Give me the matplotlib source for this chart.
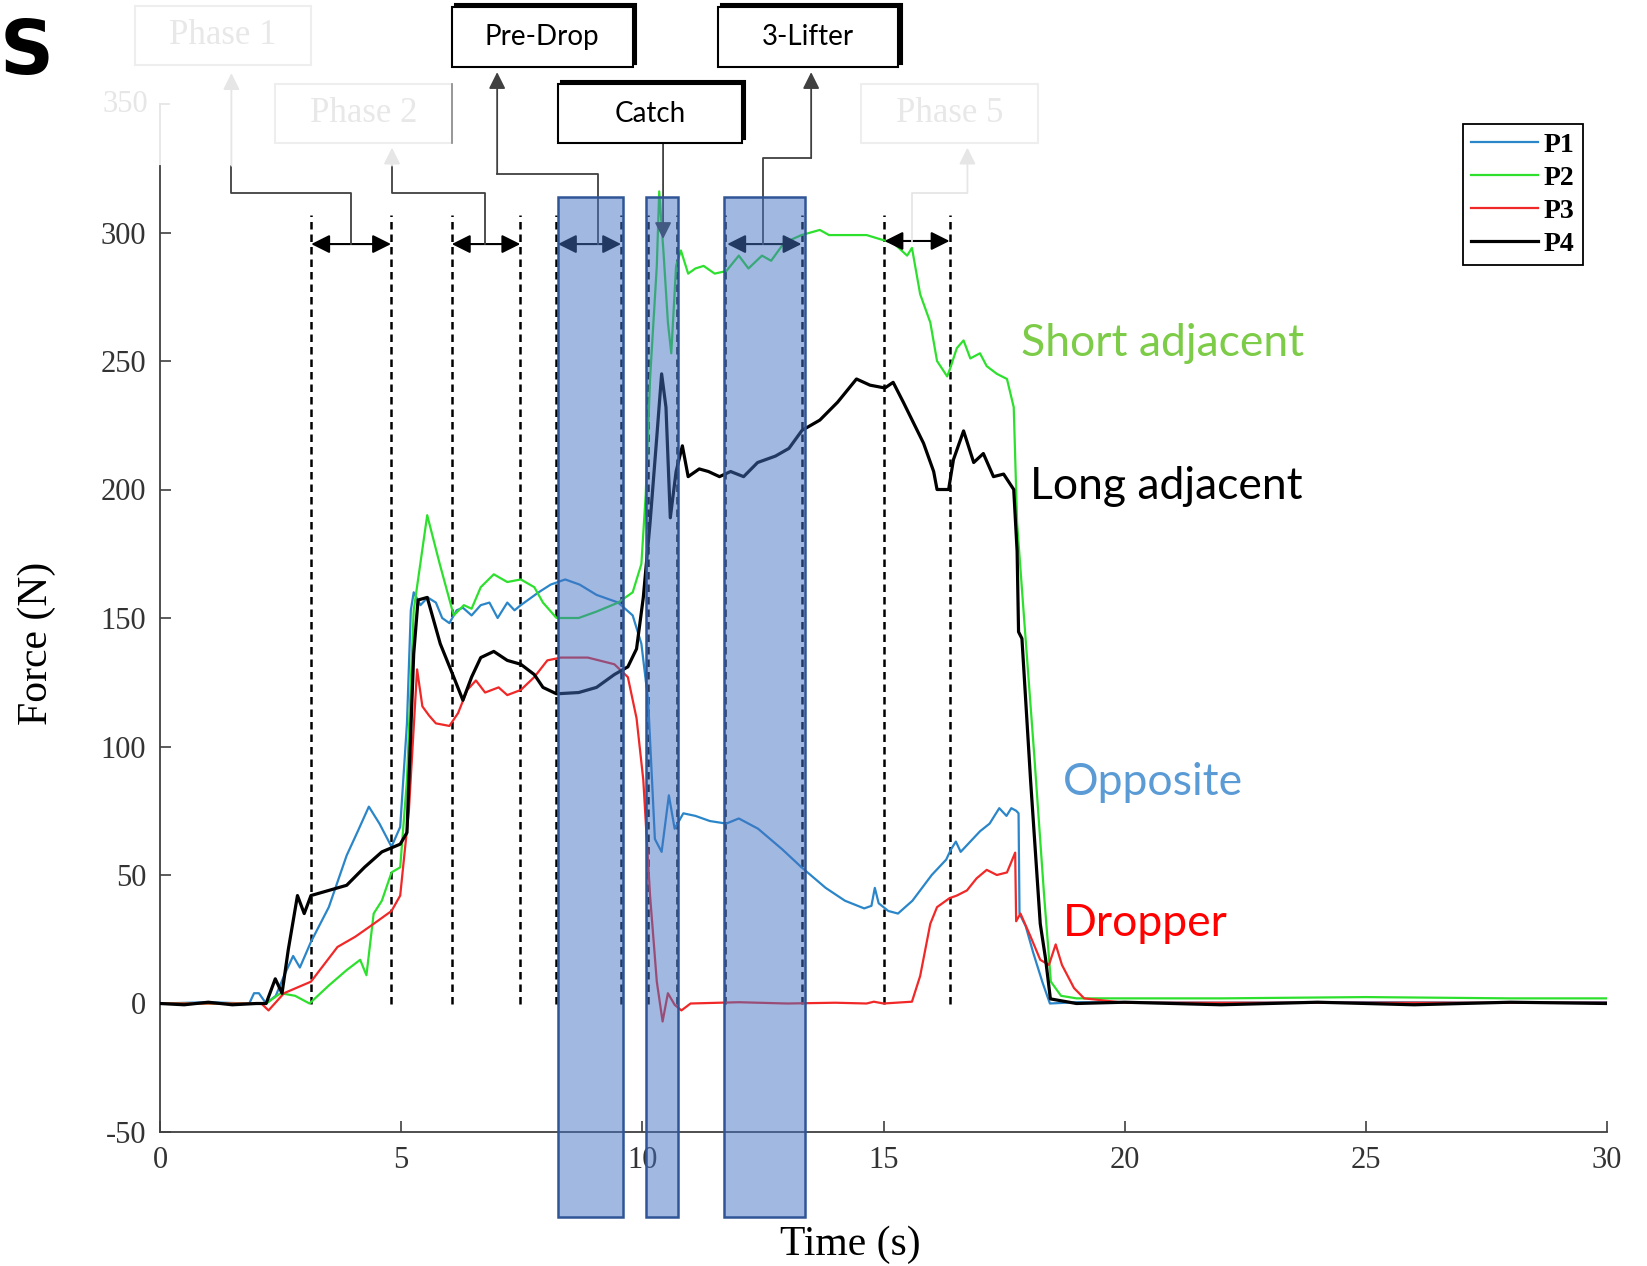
import matplotlib.pyplot as plt
import matplotlib.patches as patches

plt.rcParams['axes.unicode_minus'] = False

# ---- data (time in s, force in N) ----
t_p1 = [0, 1.0, 1.85, 1.95, 2.05, 2.2, 2.4, 2.57, 2.76, 2.9, 3.13, 3.5, 3.87, 4.1, 4.33, 4.55, 4.8, 4.98,
        5.12, 5.2, 5.26, 5.4, 5.55, 5.72, 5.85, 6.0, 6.15, 6.28, 6.46, 6.65, 6.83, 7.0, 7.2, 7.35, 7.48,
        7.85, 8.1, 8.4, 8.7, 9.05, 9.5, 9.8, 9.98, 10.12, 10.26, 10.4, 10.55, 10.67, 10.85, 11.1, 11.4,
        11.74, 12.0, 12.4, 12.9, 13.3, 13.8, 14.2, 14.6, 14.75, 14.82, 14.9, 15.1, 15.3, 15.6, 16.0, 16.3,
        16.4, 16.5, 16.6, 16.8, 17.0, 17.2, 17.4, 17.55, 17.65, 17.75, 17.8, 17.82, 17.95, 18.1, 18.3,
        18.45, 19.0, 22.0, 25.0, 28.0, 30.0]
f_p1 = [0, 0.5, 0, 4, 4, 0, 3, 10.7, 18.5, 14, 24, 37.5, 57.6, 67, 76.6, 70, 61, 68.7,
        109, 153, 160, 155, 158, 156, 150, 148, 153, 154, 151, 155, 156, 150, 156, 153, 155,
        160, 163, 165, 163, 159, 156, 151, 140, 118, 64, 59, 81, 68, 74, 73, 71,
        70, 72, 68, 60, 53, 45, 40, 37, 38, 45, 39, 36, 35, 40, 50, 56,
        60, 63, 59, 63, 67, 70, 76, 73, 76, 75, 74, 35, 30, 20, 8,
        0, 0.5, 0.3, 0.5, 0.3, 0.5]

t_p2 = [0, 1.0, 2.2, 2.5, 2.8, 3.1, 3.5, 3.87, 4.15, 4.28, 4.43, 4.6, 4.8, 4.98, 5.12, 5.26, 5.54, 5.8,
        6.09, 6.3, 6.46, 6.65, 6.92, 7.2, 7.48, 7.76, 7.94, 8.22, 8.68, 9.05, 9.5, 9.8, 9.98, 10.07,
        10.16, 10.3, 10.35, 10.44, 10.53, 10.6, 10.7, 10.8, 10.95, 11.1, 11.27, 11.5, 11.74, 12.0, 12.2,
        12.48, 12.67, 12.94, 13.3, 13.68, 13.87, 14.2, 14.65, 15.0, 15.2, 15.49, 15.59, 15.76, 15.97,
        16.11, 16.32, 16.38, 16.52, 16.66, 16.8, 17.0, 17.14, 17.35, 17.56, 17.7, 17.77, 17.9, 18.12,
        18.33, 18.47, 18.68, 19.0, 22.0, 25.0, 28.0, 30.0]
f_p2 = [0, 0, 0, 4, 3, 0, 7, 13, 17, 11, 35, 40, 51, 53, 87, 153, 190, 171,
        151, 155, 153.6, 162, 167, 164, 165, 162, 156, 150, 150, 152.5, 156, 160, 171, 198,
        243, 287, 316, 292, 265, 253, 287, 293, 284, 286, 287, 284, 285, 291, 286,
        291, 289, 296, 299, 301, 299, 299, 299, 297, 296, 291, 294, 276, 265,
        250, 244, 247, 255, 258, 251, 253, 248, 245, 243, 232, 187, 153.6, 98,
        42, 8.5, 3, 2, 2, 2.5, 2, 2]

t_p3 = [0, 1.0, 2.1, 2.25, 2.57, 3.13, 3.68, 4.05, 4.43, 4.8, 4.98, 5.16, 5.33, 5.44, 5.58, 5.72, 6.0,
        6.18, 6.37, 6.55, 6.74, 7.02, 7.2, 7.48, 7.76, 8.03, 8.31, 8.87, 9.42, 9.7, 9.88, 10.02, 10.16,
        10.3, 10.42, 10.53, 10.67, 10.81, 11.0, 12.0, 13.0, 14.0, 14.65, 14.8, 15.0, 15.59, 15.76,
        15.97, 16.11, 16.37, 16.52, 16.73, 16.93, 17.14, 17.35, 17.56, 17.73, 17.75, 17.84, 18.05,
        18.25, 18.43, 18.57, 18.7, 18.95, 19.16, 20.0, 24.0, 30.0]
f_p3 = [0, 0, 0, -2.7, 4, 8.5, 22, 26, 31, 36, 42, 75, 130, 115.6, 112, 109, 108,
        113, 122, 125.7, 121, 123, 120, 122, 127, 133.5, 134.6, 134.6, 132, 127, 111, 87, 42,
        8.5, -7, 4, -0.5, -2.7, 0, 0.5, 0, 0.3, 0, 0.7, 0, 0.7, 10.7,
        31, 37.5, 41, 42, 44, 48.7, 52, 50, 51, 58.7, 32, 35, 26,
        17, 15, 23, 15, 6, 2, 0.3, 0.3, 0.3]

t_p4 = [0, 0.5, 1.0, 1.5, 2.0, 2.2, 2.39, 2.53, 2.66, 2.85, 2.99, 3.13, 3.5, 3.87, 4.24, 4.6, 4.98, 5.12,
        5.26, 5.35, 5.54, 5.81, 6.09, 6.28, 6.46, 6.65, 6.92, 7.2, 7.48, 7.76, 7.94, 8.22, 8.68, 9.05,
        9.42, 9.7, 9.88, 10.02, 10.16, 10.3, 10.4, 10.49, 10.58, 10.7, 10.83, 10.95, 11.18, 11.37, 11.6,
        11.83, 12.1, 12.39, 12.76, 13.04, 13.31, 13.68, 14.05, 14.44, 14.72, 15.03, 15.2, 15.41, 15.62,
        15.83, 16.04, 16.11, 16.35, 16.45, 16.66, 16.87, 17.07, 17.28, 17.49, 17.7, 17.77, 17.8, 17.87,
        18.05, 18.25, 18.36, 18.46, 19.0, 20.0, 22.0, 24.0, 26.0, 28.0, 30.0]
f_p4 = [0, -0.5, 0.5, -0.5, 0, 0, 9.6, 4, 21, 42, 35, 42, 44, 46, 53, 59, 62, 66.5,
        136, 157, 158, 140, 127, 118, 127, 134.6, 137, 133.5, 132, 128, 123, 120.5, 121, 123,
        128, 131, 138, 158, 187, 220.5, 245, 232, 189, 207, 217, 205, 208, 207, 205,
        207, 205, 210.5, 213, 216, 223, 227, 234, 243, 240.6, 239.5, 241.7, 234, 226,
        218, 207, 200, 200, 211.6, 222.8, 210.5, 214, 205, 206, 200, 176, 144.6, 142,
        86.6, 31, 17.4, 1.8, 0, 0.5, -0.5, 0.5, -0.5, 0.5, 0]

phase_lines = [3.135, 4.79, 6.05, 7.47, 8.21, 9.56, 10.12, 10.71, 11.71, 13.30, 15.02, 16.37]
shaded = [(8.25, 9.60), (10.08, 10.73), (11.69, 13.37)]
x_ticks = [0, 5, 10, 15, 20, 25, 30]
y_ticks = [-50, 0, 50, 100, 150, 200, 250, 300]

fig = plt.figure(figsize=(16.47, 12.66), dpi=100)
ax = fig.add_axes([160 / 1647, 1 - 1132 / 1266, 1447 / 1647, 1028 / 1266])
ax.set_xlim(0, 30)
ax.set_ylim(-50, 350)

dark = '#404040'
faint = '#e6e6e6'
serif = 'Liberation Serif'
calib = 'Lato'

ax.plot(t_p1, f_p1, color='#2a86c8', lw=1.6, label='P1', zorder=3)
ax.plot(t_p2, f_p2, color='#2ee02e', lw=1.6, label='P2', zorder=3)
ax.plot(t_p3, f_p3, color='#f02828', lw=1.6, label='P3', zorder=3)
ax.plot(t_p4, f_p4, color='black', lw=2.3, label='P4', zorder=3)

for x in phase_lines:
    ax.plot([x, x], [0, 307], color='black', lw=1.8, ls=(0, (3, 2)), zorder=2)

# double arrows marking each phase
arrow_pairs = [(3.135, 4.79, 295.5), (6.05, 7.47, 295.5), (8.25, 9.56, 295.5),
               (11.76, 13.30, 295.5), (15.02, 16.37, 296.7)]
for x1, x2, y in arrow_pairs:
    ax.annotate('', xy=(x2, y), xytext=(x1, y),
                arrowprops=dict(arrowstyle='<|-|>', color='black', lw=1.5,
                                mutation_scale=28, shrinkA=0, shrinkB=0), zorder=4)


def connector(xs, ys, color, lw=1.3, head=True):
    if not head:
        ax.plot(xs, ys, color=color, lw=lw, clip_on=False, zorder=4)
        return
    ax.plot(xs[:-1], ys[:-1], color=color, lw=lw, clip_on=False, zorder=4)
    ax.annotate('', xy=(xs[-1], ys[-1]), xytext=(xs[-2], ys[-2]),
                arrowprops=dict(arrowstyle='-|>', color=color, lw=lw,
                                mutation_scale=25, shrinkA=0, shrinkB=0),
                annotation_clip=False, zorder=4)


# faded phase connectors (lower part still dark, upper part washed out)
connector([3.96, 3.96, 1.48, 1.48], [295.5, 315.5, 315.5, 326], dark, head=False)
connector([1.48, 1.48], [326, 362], faint)
connector([6.73, 6.73, 4.81, 4.81], [295.5, 315.5, 315.5, 326], dark, head=False)
connector([4.81, 4.81], [326, 333], faint)
connector([15.59, 15.59, 16.74, 16.74], [296.7, 315.5, 315.5, 333], faint)

# active connectors
connector([9.08, 9.08, 6.99, 6.99], [295.5, 322.9, 322.9, 362.4], dark)
connector([10.43, 10.43], [335, 297.5], dark)
connector([12.50, 12.50, 13.50, 13.50], [295.5, 329, 329, 362.4], dark)

for x1, x2 in shaded:
    ax.add_patch(patches.Rectangle((x1, -83), x2 - x1, 397, facecolor='#4472c4', alpha=0.5,
                                   edgecolor='none', clip_on=False, zorder=5))
    ax.add_patch(patches.Rectangle((x1, -83), x2 - x1, 397, facecolor='none',
                                   edgecolor='#2f5597', lw=1.8, clip_on=False, zorder=5))


def box(x0, x1, y0, y1, text, faded=False):
    if faded:
        ax.add_patch(patches.Rectangle((x0, y0), x1 - x0, y1 - y0, facecolor='white',
                                       edgecolor='#eeeeee', lw=1.5, clip_on=False, zorder=6))
        ax.text((x0 + x1) / 2, (y0 + y1) / 2, text, ha='center', va='center', fontsize=25,
                family=serif, color='#e8e8e8', zorder=7)
        return
    ax.add_patch(patches.Rectangle((x0 + 0.07, y0 + 1.2), x1 - x0, y1 - y0, facecolor='black',
                                   edgecolor='black', lw=1.5, clip_on=False, zorder=6))
    ax.add_patch(patches.Rectangle((x0, y0), x1 - x0, y1 - y0, facecolor='white',
                                   edgecolor='black', lw=1.5, clip_on=False, zorder=6))
    ax.text((x0 + x1) / 2, (y0 + y1) / 2, text, ha='center', va='center', fontsize=20,
            family=calib, color='black', zorder=7)


box(-0.52, 3.135, 365, 388, 'Phase 1', faded=True)
box(2.39, 6.05, 335, 357.6, 'Phase 2', faded=True)
box(14.54, 18.2, 335, 357.6, 'Phase 5', faded=True)
box(6.05, 9.80, 364.5, 387.8, 'Pre-Drop')
box(8.25, 12.06, 335, 357.6, 'Catch')
box(11.56, 15.31, 364.5, 387.8, '3-Lifter')
ax.plot([6.05, 6.05], [335, 357.6], color='#888888', lw=1.2, clip_on=False, zorder=7)

# axes styling
for s in ['top', 'right']:
    ax.spines[s].set_visible(False)
ax.spines['left'].set_bounds(-50, 326)
ax.spines['left'].set_color(dark)
ax.spines['bottom'].set_color(dark)
ax.spines['left'].set_linewidth(1.3)
ax.spines['bottom'].set_linewidth(1.3)
ax.plot([0, 0], [326, 350], color=faint, lw=1.3, clip_on=False)
ax.plot([0, 0.18], [350, 350], color=faint, lw=1.3, clip_on=False)
ax.text(-0.25, 350, '350', ha='right', va='center', fontsize=22, family=serif, color=faint)
ax.set_xticks(x_ticks)
ax.set_yticks(y_ticks)
ax.tick_params(direction='in', length=8, width=1.2, color=dark, labelcolor='#333333',
               labelsize=22, pad=10)
for lab in ax.get_xticklabels() + ax.get_yticklabels():
    lab.set_family(serif)
fig.text(850 / 1647, 1 - 1245 / 1266, 'Time (s)', fontsize=30, family=serif,
         ha='center', va='center')
fig.text(37 / 1647, 1 - 643 / 1266, 'Force (N)', fontsize=30, family=serif,
         ha='center', va='center', rotation=90)

# region labels
ax.text(17.85, 256.7, 'Short adjacent', color='#7ccc48', fontsize=32, family=calib, va='center')
ax.text(18.03, 201, 'Long adjacent', color='black', fontsize=32, family=calib, va='center')
ax.text(18.72, 86, 'Opposite', color='#5b9bd5', fontsize=32, family=calib, va='center')
ax.text(18.72, 31, 'Dropper', color='#ff0000', fontsize=32, family=calib, va='center')

leg = ax.legend(loc='upper left', bbox_to_anchor=(1463 / 1647, 1 - 124 / 1266),
                bbox_transform=fig.transFigure, fancybox=False, framealpha=1,
                edgecolor='black', prop={'family': serif, 'size': 20, 'weight': 'bold'},
                handlelength=2.4, handletextpad=0.2, labelspacing=0.27, borderpad=0.3,
                borderaxespad=0)
leg.get_frame().set_linewidth(1.3)
leg.set_zorder(10)

fig.text(0 / 1647, 1 - 74 / 1266, 'S', fontsize=54, fontweight='bold',
         family='DejaVu Sans', ha='left', va='baseline')

fig.savefig('out.png', dpi=100)
